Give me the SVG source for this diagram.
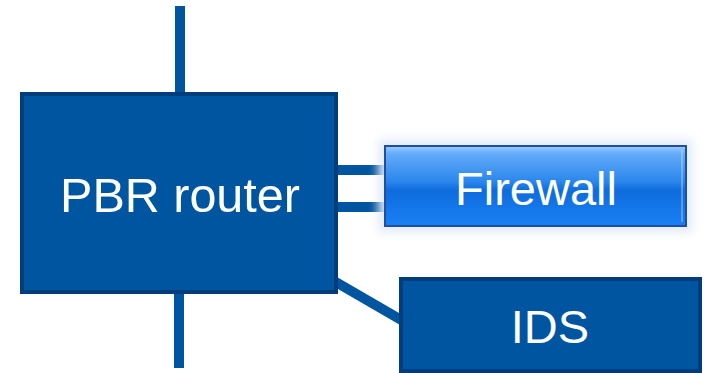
<svg xmlns="http://www.w3.org/2000/svg" width="708" height="373" viewBox="0 0 708 373">
  <style>
    .link { stroke: #0055A0; stroke-width: 10; fill: none; }
    .box { fill: #0055A0; stroke: #003D7A; stroke-width: 4; }
    .label { font-family: "Liberation Sans", Arial, sans-serif; font-size: 47px; fill: #FFFFFF; text-anchor: middle; }
  </style>
  <defs>
    <linearGradient id="gloss" x1="0" y1="0" x2="0" y2="1">
      <stop offset="0" stop-color="#9CCBFF"/>
      <stop offset="0.1" stop-color="#63ABFA"/>
      <stop offset="0.45" stop-color="#2A86EC"/>
      <stop offset="0.55" stop-color="#0E6CDC"/>
      <stop offset="1" stop-color="#1A80F6"/>
    </linearGradient>
    <filter id="halo" x="-20%" y="-40%" width="140%" height="180%">
      <feGaussianBlur stdDeviation="5"/>
    </filter>
  </defs>

  <g id="connectors">
    <line class="link" x1="180" y1="6" x2="180" y2="94"/>
    <line class="link" x1="179" y1="292" x2="179" y2="368"/>
    <line class="link" x1="336" y1="170" x2="386" y2="170"/>
    <line class="link" x1="336" y1="207" x2="386" y2="207"/>
    <line class="link" x1="334" y1="281" x2="403" y2="321"/>
  </g>

  <g id="pbr-router">
    <rect class="box" x="22" y="94" width="314" height="198"/>
    <text class="label" x="180" y="212" style="font-size:48.5px">PBR router</text>
  </g>

  <g id="firewall">
    <rect x="378" y="139" width="315" height="94" fill="#E4EBF7" opacity="0.95" filter="url(#halo)"/>
    <rect x="385" y="146" width="301" height="80" fill="url(#gloss)" stroke="#1E4FA0" stroke-width="2"/>
    <line x1="682" y1="150" x2="682" y2="222" stroke="#CFE4FF" stroke-width="1.2" opacity="0.6"/>
    <text class="label" x="536" y="205">Firewall</text>
  </g>

  <g id="ids">
    <rect class="box" x="401" y="279" width="299" height="92"/>
    <text class="label" x="550" y="343">IDS</text>
  </g>
</svg>
